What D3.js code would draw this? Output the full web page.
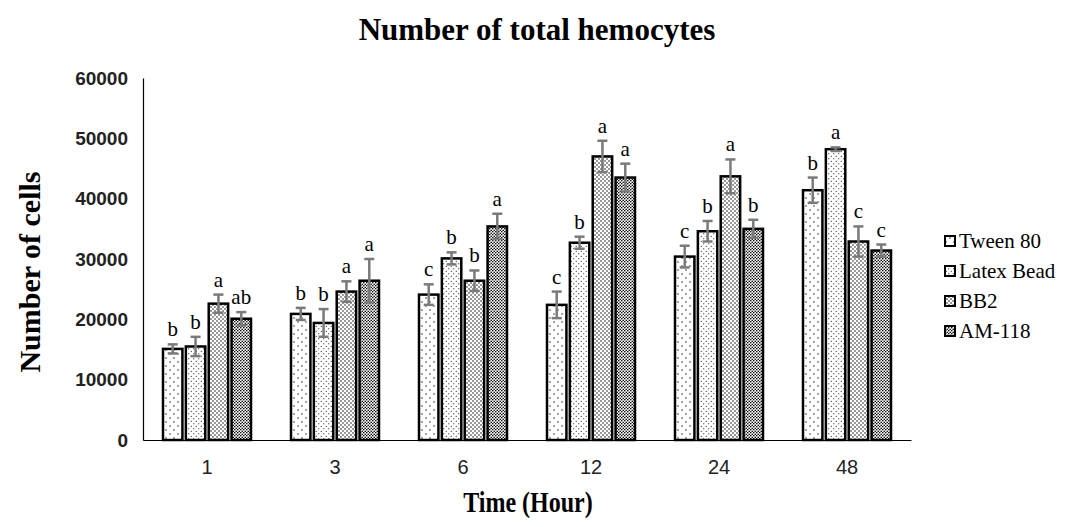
<!DOCTYPE html>
<html><head><meta charset="utf-8">
<script src="https://cdn.jsdelivr.net/npm/d3@7"></script>
<style>body{margin:0;background:#fff}svg{display:block}</style>
</head><body>
<script>
const categories = ["1","3","6","12","24","48"];
const series = ["Tween 80","Latex Bead","BB2","AM-118"];
const tween80 = [15100,20900,24100,22400,30400,41400];
const latexBead = [15500,19400,30100,32700,34600,48200];
const bb2 = [22600,24600,26400,47000,43700,32900];
const am118 = [20100,26400,35400,43500,35000,31400];
const tween80Err = [750,1000,1700,2200,1800,2100];
const latexBeadErr = [1600,2300,1000,1000,1700,300];
const bb2Err = [1500,1700,1700,2600,2800,2500];
const am118Err = [1100,3600,2100,2300,1500,1000];
const tween80Sig = ["b","b","c","c","c","b"];
const latexBeadSig = ["b","b","b","b","b","a"];
const bb2Sig = ["a","a","b","a","a","c"];
const am118Sig = ["ab","a","a","a","b","c"];
const yTicks = [0,10000,20000,30000,40000,50000,60000];

const values = [tween80, latexBead, bb2, am118];
const errs = [tween80Err, latexBeadErr, bb2Err, am118Err];
const sigs = [tween80Sig, latexBeadSig, bb2Sig, am118Sig];

const W = 1073, H = 527;
const serif = "Liberation Serif, Times New Roman, serif";
const svg = d3.select("body").append("svg").attr("width", W).attr("height", H);

// patterns
const defs = svg.append("defs");
function dotPattern(id, size, r) {
  const p = defs.append("pattern").attr("id", id).attr("patternUnits", "userSpaceOnUse")
    .attr("width", size).attr("height", size);
  p.append("rect").attr("width", size).attr("height", size).attr("fill", "#fff");
  p.append("circle").attr("cx", size/4).attr("cy", size/4).attr("r", r).attr("fill", "#000");
  p.append("circle").attr("cx", size*3/4).attr("cy", size*3/4).attr("r", r).attr("fill", "#000");
}
dotPattern("p0", 8, 0.7);
dotPattern("p1", 5, 0.6);
dotPattern("p2", 4, 0.75);
dotPattern("p3", 3, 0.8);

const x0 = d3.scaleBand().domain(categories).range([143, 911]);
const x1 = d3.scaleBand().domain(series).range([-44, 44]).paddingInner(0.15);
const y = d3.scaleLinear().domain([0, 60000]).range([440, 78]);

// axes
const yAxis = svg.append("g").attr("transform", "translate(143,0)")
  .call(d3.axisLeft(y).tickValues(yTicks).tickSize(0).tickPadding(15).tickFormat(d3.format("d")));
yAxis.select(".domain").attr("stroke", "#000").attr("stroke-width", 1.2);
yAxis.selectAll("text").attr("font-family", "Liberation Sans, Arial, sans-serif")
  .attr("font-size", 19).attr("font-weight", "bold").attr("fill", "#222");

const xAxis = svg.append("g").attr("transform", "translate(0,440)")
  .call(d3.axisBottom(x0).tickSize(0).tickPadding(20));
xAxis.select(".domain").attr("stroke", "#000").attr("stroke-width", 1.2);
xAxis.selectAll("text").attr("font-family", "Liberation Sans Narrow, Liberation Sans, Arial, sans-serif")
  .attr("font-size", 20).attr("fill", "#222");

// bars
series.forEach((s, si) => {
  const g = svg.append("g");
  categories.forEach((c, ci) => {
    const v = values[si][ci], e = errs[si][ci];
    const bx = x0(c) + x0.bandwidth()/2 + x1(s);
    const bw = x1.bandwidth();
    g.append("rect").attr("x", bx).attr("y", y(v)).attr("width", bw).attr("height", y(0) - y(v))
      .attr("fill", `url(#p${si})`).attr("stroke", "#000").attr("stroke-width", 2.5);
    const cx = bx + bw/2;
    g.append("line").attr("x1", cx).attr("x2", cx).attr("y1", y(v+e)).attr("y2", y(v-e))
      .attr("stroke", "#7a7a7a").attr("stroke-width", 2.5);
    [v+e, v-e].forEach(t => g.append("line").attr("x1", cx-5).attr("x2", cx+5)
      .attr("y1", y(t)).attr("y2", y(t)).attr("stroke", "#7a7a7a").attr("stroke-width", 2.5));
    g.append("text").attr("x", cx).attr("y", y(v+e) - 8).attr("text-anchor", "middle")
      .attr("font-family", serif).attr("font-size", 21)
      .attr("fill", "#000").text(sigs[si][ci]);
  });
});

// title and axis labels
svg.append("text").attr("x", 537).attr("y", 40).attr("text-anchor", "middle")
  .attr("font-family", serif).attr("font-weight", "bold")
  .attr("font-size", 31).text("Number of total hemocytes");
svg.append("text").attr("transform", "translate(40,272) rotate(-90)").attr("text-anchor", "middle")
  .attr("font-family", serif).attr("font-weight", "bold")
  .attr("font-size", 30).text("Number of cells");
svg.append("text").attr("transform", "translate(528,512) scale(1,1.25)").attr("text-anchor", "middle")
  .attr("font-family", serif).attr("font-weight", "bold")
  .attr("font-size", 24).text("Time (Hour)");

// legend
const leg = svg.append("g");
series.forEach((s, i) => {
  const ly = 242 + i * 30;
  leg.append("rect").attr("x", 945).attr("y", ly - 6).attr("width", 10).attr("height", 10)
    .attr("fill", `url(#p${i})`).attr("stroke", "#000").attr("stroke-width", 2);
  leg.append("text").attr("x", 959).attr("y", ly + 6)
    .attr("font-family", serif).attr("font-size", 21)
    .attr("fill", "#000").text(s);
});
</script>
</body></html>
